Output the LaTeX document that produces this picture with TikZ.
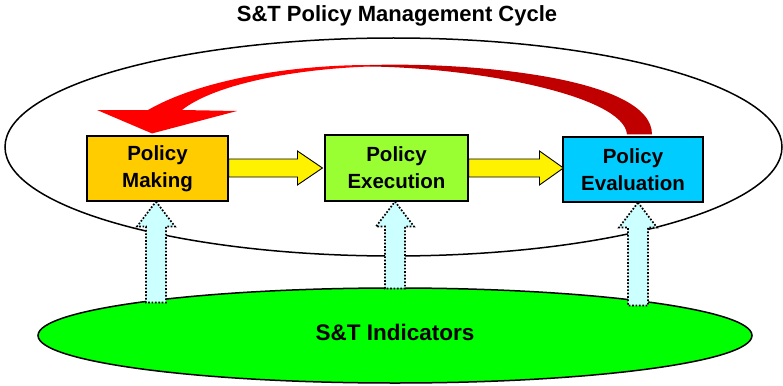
\documentclass[tikz,border=0pt]{standalone}
\usepackage{fontspec}
\setmainfont{Liberation Sans}
\usetikzlibrary{calc,shapes.geometric}
\definecolor{pmcol}{HTML}{FFCC00}
\definecolor{pecol}{HTML}{99FF33}
\definecolor{pevcol}{HTML}{00CCFF}
\definecolor{indcol}{HTML}{00FF00}
\definecolor{upcol}{HTML}{CCFFFF}
\definecolor{redfront}{HTML}{FF0000}
\definecolor{redback}{HTML}{C00000}
\begin{document}
\begin{tikzpicture}[x=1pt,y=-1pt,
  box/.style={draw=black, line width=1.1pt, minimum height=65pt, inner sep=0pt, align=center, font=\bfseries\fontsize{20.5}{27}\selectfont},
  yarrow/.style={fill=yellow, draw=black, line width=0.9pt, line join=miter},
  uparrow/.style={fill=upcol, draw=black, line width=1.7pt, dash pattern=on 1.7pt off 1.7pt},
  ring/.style={ellipse, draw=black, line width=1.5pt, inner sep=0pt}]
\useasboundingbox (0,0) rectangle (783,385);

% title
\node[font=\bfseries\fontsize{22}{26}\selectfont, anchor=base] (title) at (397,22) {S\&T Policy Management Cycle};

% outer cycle ellipse
\node[ring, minimum width=777pt, minimum height=218pt] (cyc) at (393.5,147) {};

% indicators ellipse
\node[ring, fill=indcol, minimum width=714pt, minimum height=95pt, text height=16.4pt, text depth=7pt,
      font=\bfseries\fontsize{22.5}{26}\selectfont] (ind) at (395,335.5) {S\&T Indicators};

% boxes (positions needed for arrows)
\node[box, fill=pmcol, minimum width=141pt] (pm) at (157.5,168.5) {Policy\\Making};
\node[box, fill=pecol, minimum width=143pt, minimum height=66pt] (pe) at (396.5,168) {Policy\\Execution};
\node[box, fill=pevcol, minimum width=140pt] (pev) at (633,169.5) {Policy\\Evaluation};

% dotted up arrows from indicators to boxes
\coordinate (t1) at ($(pm.south)+(-1.5,0)$);
\coordinate (b1) at ($(t1)+(0,101)$);
\coordinate (t2) at ($(pe.south)+(-1.5,0)$);
\coordinate (b2) at ($(t2)+(0,87)$);
\coordinate (t3) at ($(pev.south)+(5,0)$);
\coordinate (b3) at ($(t3)+(0,103)$);
\foreach \t/\b in {t1/b1,t2/b2,t3/b3}{
  \draw[uparrow] (\t) -- ($(\t)+(19,25)$) -- ($(\t)+(10,25)$) -- ($(\b)+(10,0)$)
     -- ($(\b)+(-10,0)$) -- ($(\t)+(-10,25)$) -- ($(\t)+(-19,25)$) -- cycle;
}
% redraw boxes on top
\node[box, fill=pmcol, minimum width=141pt] at (pm) {Policy\\Making};
\node[box, fill=pecol, minimum width=143pt, minimum height=66pt] at (pe) {Policy\\Execution};
\node[box, fill=pevcol, minimum width=140pt] at (pev) {Policy\\Evaluation};

% yellow block arrows
\draw[yarrow] let \p1=(pm.east), \p2=(pe.west) in
  (\x1,\y1+0.5pt-9pt) -- (\x2-27pt,\y1+0.5pt-9pt) -- (\x2-27pt,\y1+0.5pt-17pt) -- (\x2-2pt,\y1+0.5pt)
  -- (\x2-27pt,\y1+0.5pt+17pt) -- (\x2-27pt,\y1+0.5pt+9pt) -- (\x1,\y1+0.5pt+9pt) -- cycle;
\draw[yarrow] let \p1=(pe.east), \p2=(pev.west) in
  (\x1,\y1-9pt) -- (\x2-23pt,\y1-9pt) -- (\x2-23pt,\y1-17pt) -- (\x2+1pt,\y1)
  -- (\x2-23pt,\y1+17pt) -- (\x2-23pt,\y1+9pt) -- (\x1,\y1+9pt) -- cycle;

% red curved arrow from evaluation back to making
\coordinate (rs1) at ($(pev.north)+(-6,-2)$);
\coordinate (rs2) at ($(pev.north)+(19,-2)$);
\coordinate (rt) at ($(pm.north)+(-5.5,-2)$);
\fill[redback] (370,65) .. controls (475,62) and (652,78) .. (rs2) -- (rs1)
   .. controls (624,96) and (480,68) .. (370,66.5) -- cycle;
\fill[redfront] (97,110) -- (148,110) .. controls (200,80) and (290,65) .. (370,65)
   -- (370,66.5) .. controls (295,69) and (215,84) .. (182,110) -- (237,111) -- (rt) -- cycle;
\end{tikzpicture}
\end{document}
